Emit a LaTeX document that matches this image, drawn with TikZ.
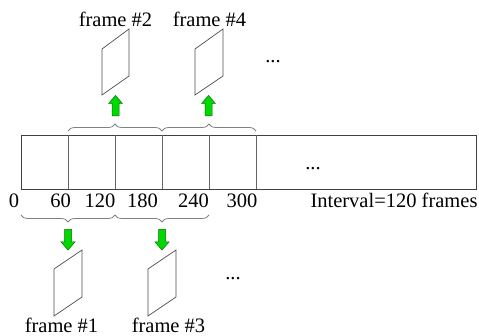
\documentclass[tikz,border=0pt]{standalone}
\usepackage{fontspec}
\setmainfont{Liberation Serif}
\newfontfamily\labelface{Liberation Serif}
\usetikzlibrary{decorations.pathreplacing}
\begin{document}
\begin{tikzpicture}[x=1pt,y=-1pt,
  every node/.style={font=\labelface\fontsize{20.5pt}{24pt}\selectfont, inner sep=0pt},
  lbl/.style={anchor=base},
  boxline/.style={draw=black!75, line width=0.8pt},
  divline/.style={draw=black!60, line width=0.8pt},
  framesheet/.style={draw=black!70, line width=0.7pt},
  bracegray/.style={draw=black!50, line width=0.8pt,
    decorate, decoration={brace, amplitude=7pt}},
  greenfill/.style={draw=green!45!black, fill=green!85!black, line width=0.5pt},
  % block arrow pointing up, centred on its position
  pics/blockup/.style={code={
    \coordinate (-c) at (0,0);
    \draw[greenfill] (0,-10.5) -- (7,-2.5) -- (3.5,-2.5) -- (3.5,10)
      -- (-3.5,10) -- (-3.5,-2.5) -- (-7,-2.5) -- cycle;}},
  pics/blockdown/.style={code={
    \coordinate (-c) at (0,0);
    \draw[greenfill] (0,10.5) -- (7,2.5) -- (3.5,2.5) -- (3.5,-10)
      -- (-3.5,-10) -- (-3.5,2.5) -- (-7,2.5) -- cycle;}}]
\useasboundingbox (0,0) rectangle (479,336);

% the long strip of intervals
\draw[boxline] (21,135) rectangle (476,189);
\foreach \x in {68,115,162,209,256}
  \draw[divline] (\x,135) -- (\x,189);
\node[lbl] (dotsmid) at (313,169.5) {...};

% positions along the strip
\node[lbl] (n0)   at (14,208)  {0};
\node[lbl] (n60)  at (60.5,208) {60};
\node[lbl] (n120) at (100,208) {120};
\node[lbl] (n180) at (142.5,208) {180};
\node[lbl] (n240) at (193.5,208) {240};
\node[lbl] (n300) at (242,208) {300};
\node[lbl] (intv) at (394,208) {Interval=120 frames};

% upper braces and extracted frames
\draw[bracegray] (68,131) -- (162,131);
\draw[bracegray] (162,131) -- (256,131);
\pic (up2) at (115.5,106) {blockup};
\pic (up4) at (208.5,106) {blockup};
\draw[framesheet] (102,49) -- (129,29) -- (129,76) -- (102,95) -- cycle;
\draw[framesheet] (195,49) -- (223,29) -- (223,76) -- (195,95) -- cycle;
\node[lbl] (f2) at (115.5,27) {frame \#2};
\node[lbl] (f4) at (209.5,27) {frame \#4};
\node[lbl] (dotstop) at (273,62.5) {...};

% lower braces and extracted frames
\draw[bracegray] (115,215) -- (21,215);
\draw[bracegray] (209,215) -- (115,215);
\pic (dn1) at (68,239.5) {blockdown};
\pic (dn3) at (162,239.5) {blockdown};
\draw[framesheet] (54,269) -- (82,250) -- (82,297) -- (54,316) -- cycle;
\draw[framesheet] (148,269) -- (176,250) -- (176,297) -- (148,316) -- cycle;
\node[lbl] (f1) at (61.5,332.5) {frame \#1};
\node[lbl] (f3) at (168.5,332.5) {frame \#3};
\node[lbl] (dotsbot) at (233,279.5) {...};
\end{tikzpicture}
\end{document}
